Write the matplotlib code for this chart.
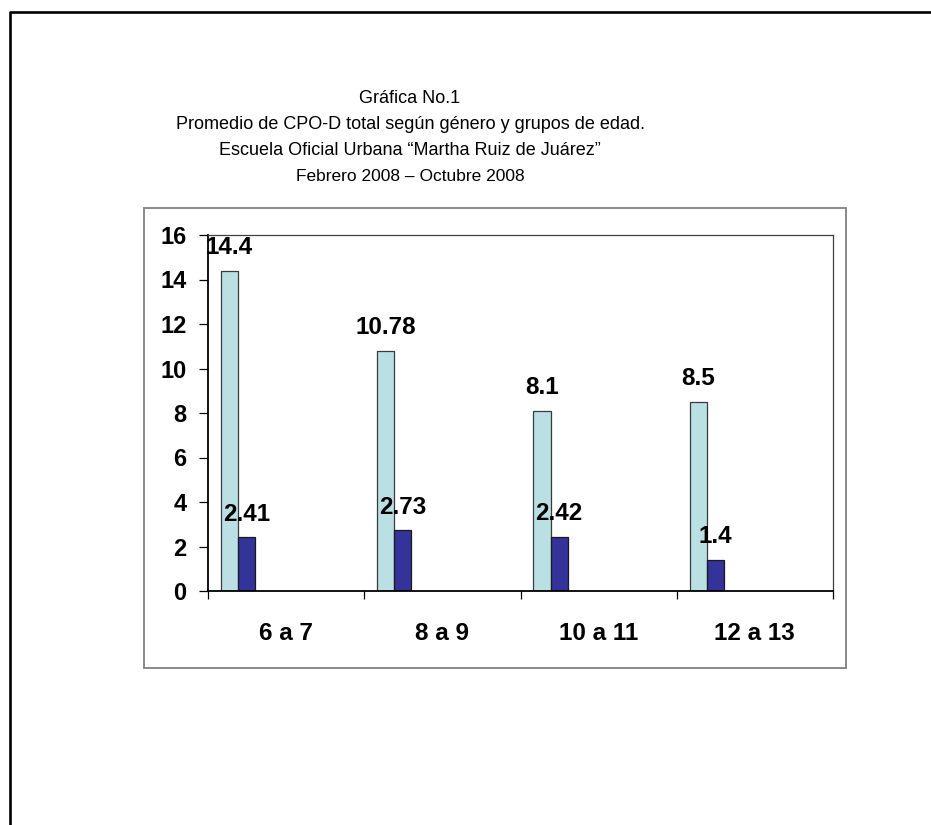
"""Bar chart: average CPO-D index by age group."""

import matplotlib
matplotlib.use("Agg")
import matplotlib.pyplot as plt
from matplotlib.lines import Line2D
from matplotlib.patches import Rectangle

plt.rcParams["font.family"] = ["Liberation Sans", "DejaVu Sans"]

# age groups and the two series per group
age_groups = ["6 a 7", "8 a 9", "10 a 11", "12 a 13"]
series_total = [14.4, 10.78, 8.1, 8.5]
series_second = [2.41, 2.73, 2.42, 1.4]
y_ticks = [0, 2, 4, 6, 8, 10, 12, 14, 16]

title_lines = [
    "Gráfica No.1",
    "Promedio de CPO-D total según género y grupos de edad.",
    "Escuela Oficial Urbana \u201cMartha Ruiz de Juárez\u201d",
    "Febrero 2008 \u2013 Octubre 2008",
]

LIGHT = "#BBE0E3"
DARK = "#333399"

W, H = 931, 825
fig = plt.figure(figsize=(W / 100, H / 100), dpi=100)


def fx(px):
    return px / W


def fy(py):
    return 1 - py / H


# page border (left and top edges only)
fig.add_artist(Line2D([fx(10), fx(10), fx(931)], [fy(825), fy(12), fy(12)],
                      transform=fig.transFigure, color="black", lw=1.9))

# chart area frame
fig.add_artist(Rectangle((fx(144), fy(668)), fx(846) - fx(144),
                         fy(208) - fy(668), transform=fig.transFigure,
                         fill=False, edgecolor="#808080", lw=1.3))

# title block
title_y = [103, 129, 155, 181]
title_size = [13, 13, 13, 12.5]
for txt, py, sz in zip(title_lines, title_y, title_size):
    fig.text(fx(410), fy(py), txt, ha="center", va="baseline", fontsize=sz)

ax = fig.add_axes([fx(208), fy(591), fx(833) - fx(208), fy(235) - fy(591)])

bar_w = 0.109
x0 = 0.083
for i, (a, b) in enumerate(zip(series_total, series_second)):
    ax.bar(i + x0, a, width=bar_w, align="edge", color=LIGHT,
           edgecolor="#3a3a3a", lw=0.9, zorder=2)
    ax.bar(i + x0 + bar_w, b, width=bar_w, align="edge", color=DARK,
           edgecolor="#1a1a1a", lw=0.9, zorder=2)
    for xc, v in ((i + x0 + bar_w / 2, a), (i + x0 + 1.5 * bar_w, b)):
        ax.annotate(f"{v:g}", (xc, v), xytext=(0, 12),
                    textcoords="offset points", ha="center", va="baseline",
                    fontsize=17.5, fontweight="bold", annotation_clip=False,
                    zorder=3)

ax.set_xlim(0, len(age_groups))
ax.set_ylim(0, 16)
ax.set_yticks(y_ticks)
ax.set_yticklabels([str(t) for t in y_ticks], fontsize=17, fontweight="bold")
ax.tick_params(axis="y", direction="out", length=6.5, width=0.9, pad=9)

ax.set_xticks(range(len(age_groups) + 1))
ax.set_xticklabels([])
ax.tick_params(axis="x", which="major", direction="out", length=6, width=0.9)
ax.set_xticks([i + 0.5 for i in range(len(age_groups))], minor=True)
ax.set_xticklabels(age_groups, minor=True, fontsize=17.5, fontweight="bold")
ax.tick_params(axis="x", which="minor", length=0, pad=22)

for side in ("left", "bottom"):
    ax.spines[side].set_linewidth(1.3)
    ax.spines[side].set_color("black")
for side in ("top", "right"):
    ax.spines[side].set_linewidth(0.9)
    ax.spines[side].set_color("#404040")

fig.savefig("out.png", dpi=100)
